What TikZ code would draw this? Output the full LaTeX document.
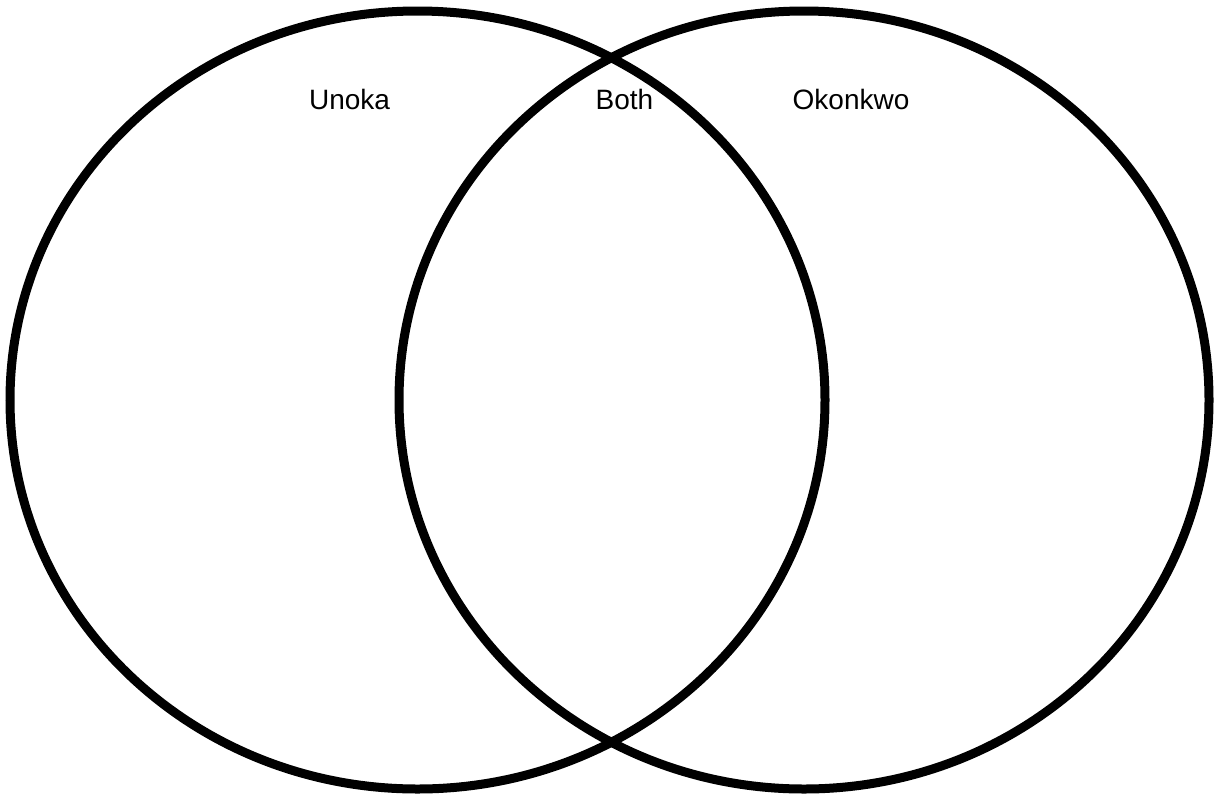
\documentclass[tikz,border=0pt]{standalone}
\usepackage{fontspec}
\setmainfont{Liberation Sans}
\begin{document}
\begin{tikzpicture}[x=1pt,y=-1pt,
  ring/.style={draw=black,line width=9pt},
  lbl/.style={font=\fontsize{28}{32}\selectfont,inner sep=0pt,anchor=base}]
\useasboundingbox[fill=white] (0,0) rectangle (1215,796);
\draw[ring] (417.5,400) ellipse [x radius=407.5, y radius=389];
\draw[ring] (804,400) ellipse [x radius=405, y radius=389];
\node[lbl] (unoka) at (349.5,109) {Unoka};
\node[lbl] (both) at (624.5,109) {Both};
\node[lbl] (okonkwo) at (851,109) {Okonkwo};
\end{tikzpicture}
\end{document}
